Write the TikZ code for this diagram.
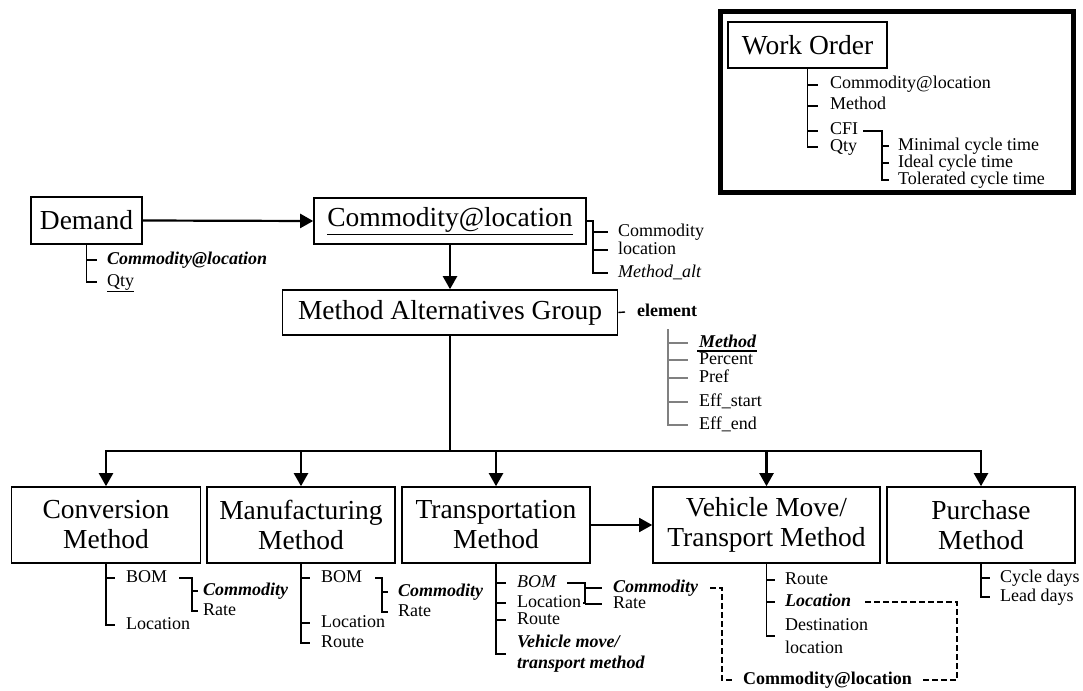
\documentclass[tikz,border=0pt]{standalone}
\usepackage{fontspec}
\setmainfont{Liberation Serif}
\usetikzlibrary{arrows.meta}
\newcommand{\bigfnt}{\fontsize{27.5}{30}\selectfont}
\newcommand{\smfnt}{\fontsize{18}{21}\selectfont}
\begin{document}
\begin{tikzpicture}[x=1pt,y=-1pt,
  box/.style={draw, line width=1.6pt, inner sep=0, font=\bigfnt, align=center},
  sm/.style={inner sep=0, anchor=west, font=\smfnt, text height=12pt, text depth=4pt},
  smm/.style={inner sep=0, anchor=west, font=\smfnt, align=left},
  bi/.style={font=\smfnt\bfseries\itshape},
  it/.style={font=\smfnt\itshape},
  bf/.style={font=\smfnt\bfseries},
  tree/.style={line width=1.4pt},
  arr/.style={line width=2.2pt, -{Triangle[length=13pt,width=14pt]}},
  dsh/.style={line width=1.5pt, dash pattern=on 6pt off 3pt},
  gr/.style={line width=1.4pt, draw=black!50}
]
\useasboundingbox (0,0) rectangle (1083,690);

% ---------- Work Order frame ----------
\node[draw, line width=5pt, minimum width=353pt, minimum height=180pt, inner sep=0] (frame) at (896.5,102) {};
\node[box, minimum width=159pt, minimum height=46pt] (wo) at (807.5,45) {Work Order};
\node[sm] (wo1) at (830,85) {Commodity@location};
\node[sm] (wo2) at (830,106) {Method};
\node[sm] (wo3) at (830,131) {CFI};
\node[sm] (wo4) at (830,147) {Qty};
\draw[tree] (wo.south) |- ([xshift=-12pt]wo4.west);
\foreach \n in {wo1,wo2,wo3} \draw[tree] (wo.south |- \n.west) -- ([xshift=-12pt]\n.west);
\coordinate (cfb) at (882,133);
\node[sm] (wo5) at (898,146) {Minimal cycle time};
\node[sm] (wo6) at (898,163) {Ideal cycle time};
\node[sm] (wo7) at (898,180) {Tolerated cycle time};
\draw[tree] ([xshift=5pt]wo3.east) -- (wo3.east -| cfb) |- ([xshift=-9pt]wo7.west);
\foreach \n in {wo5,wo6} \draw[tree] (cfb |- \n.west) -- ([xshift=-9pt]\n.west);

% ---------- Demand / Commodity@location ----------
\node[box, minimum width=111pt, minimum height=47pt] (dem) at (86.5,220.5) {Demand};
\node[box, minimum width=272pt, minimum height=46pt] (cl) at (450,221) {\underline{Commodity@location}};
\draw[arr] (dem.east) -- (cl.west);
\node[sm, bi] (d1) at (107,260) {Commodity@location};
\node[sm] (d2) at (107,282) {\underline{Qty}};
\draw[tree] (dem.south) |- ([xshift=-10pt]d2.west);
\draw[tree] (dem.south |- d1.west) -- ([xshift=-10pt]d1.west);

\coordinate (clv) at (593,221);
\node[sm] (c1) at (618,232) {Commodity};
\node[sm] (c2) at (618,250) {location};
\node[sm, it] (c3) at (618,273) {Method\_alt};
\draw[tree] (cl.east) -- (cl.east -| clv) |- ([xshift=-10pt]c3.west);
\foreach \n in {c1,c2} \draw[tree] (clv |- \n.west) -- ([xshift=-10pt]\n.west);

% ---------- Method Alternatives Group ----------
\node[box, minimum width=335pt, minimum height=45pt] (mag) at (450,312.5) {Method Alternatives Group};
\draw[arr] (cl.south) -- (mag.north);
\node[sm, bf] (el) at (637,312) {element};
\draw[tree] (mag.east) -- ([xshift=-12pt]el.west);
\coordinate (ev) at (668,329);
\node[sm, bi] (e1) at (699,343) {Method};
\node[sm] (e2) at (699,360) {Percent};
\node[sm] (e3) at (699,378) {Pref};
\node[sm] (e4) at (699,402) {Eff\_start};
\node[sm] (e5) at (699,425) {Eff\_end};
\draw[gr] (ev) |- ([xshift=-11pt]e5.west);
\foreach \n in {e1,e2,e3,e4} \draw[gr] (ev |- \n.west) -- ([xshift=-11pt]\n.west);
\draw[line width=2pt] ([xshift=-2pt]e1.south west) -- ([xshift=1pt]e1.south east);

% ---------- bottom boxes ----------
\node[box, minimum width=189pt, minimum height=76pt] (conv) at (106,525) {Conversion\\Method};
\node[box, minimum width=188pt, minimum height=76pt] (manu) at (301,525) {Manufacturing\\Method};
\node[box, minimum width=188pt, minimum height=76pt] (trans) at (496,525) {Transportation\\Method};
\node[box, minimum width=227pt, minimum height=76pt] (veh) at (766.5,525) {Vehicle Move/\\Transport Method};
\node[box, minimum width=188pt, minimum height=76pt] (purch) at (981,525) {Purchase\\Method};

\coordinate (bus) at (450,451);
\draw[line width=2.2pt] (mag.south) -- (bus);
\draw[line width=2.2pt, {Triangle[length=13pt,width=14pt]}-{Triangle[length=13pt,width=14pt]}]
  (conv.north) |- (bus) -| (purch.north);
\foreach \n in {manu,trans,veh} \draw[arr] (\n.north |- bus) -- (\n.north);
\draw[line width=1.8pt, -{Triangle[length=13pt,width=14pt]}] (trans.east) -- (veh.west);

% Conversion tree
\node[sm] (cv1) at (126,578) {BOM};
\node[sm] (cv2) at (126,625) {Location};
\draw[tree] (conv.south) |- ([xshift=-11pt]cv2.west);
\draw[tree] (conv.south |- cv1.west) -- ([xshift=-11pt]cv1.west);
\coordinate (cvb) at (192,578);
\node[sm, bi] (cv3) at (203,591) {Commodity};
\node[sm] (cv4) at (203,611) {Rate};
\draw[tree] ([xshift=12pt]cv1.east) -- (cv1.east -| cvb) |- ([xshift=-5pt]cv4.west);
\draw[tree] (cvb |- cv3.west) -- ([xshift=-5pt]cv3.west);

% Manufacturing tree
\node[sm] (m1) at (321,578) {BOM};
\node[sm] (m2) at (321,623) {Location};
\node[sm] (m3) at (321,643) {Route};
\draw[tree] (manu.south) |- ([xshift=-11pt]m3.west);
\foreach \n in {m1,m2} \draw[tree] (manu.south |- \n.west) -- ([xshift=-11pt]\n.west);
\coordinate (mb) at (382,578);
\node[sm, bi] (m4) at (398,592) {Commodity};
\node[sm] (m5) at (398,612) {Rate};
\draw[tree] ([xshift=13pt]m1.east) -- (m1.east -| mb) |- ([xshift=-10pt]m5.west);
\draw[tree] (mb |- m4.west) -- ([xshift=-10pt]m4.west);

% Transportation tree
\node[sm, it] (t1) at (517,583) {BOM};
\node[sm] (t2) at (517,603) {Location};
\node[sm] (t3) at (517,620) {Route};
\node[smm, bi] (t4) at (517,654) {Vehicle move/\\transport method};
\draw[tree] (trans.south) |- ([xshift=-11pt]t4.west);
\foreach \n in {t1,t2,t3} \draw[tree] (trans.south |- \n.west) -- ([xshift=-11pt]\n.west);
\coordinate (tb) at (585,583);
\node[sm, bi] (t5) at (613,588) {Commodity};
\node[sm] (t6) at (613,604) {Rate};
\draw[tree] ([xshift=11pt]t1.east) -- (t1.east -| tb) |- ([xshift=2pt]t2.east);
\foreach \n in {t5,t6} \draw[tree] (tb |- \n.west) -- ([xshift=-11pt]\n.west);

% Vehicle tree
\node[sm] (v1) at (785,580) {Route};
\node[sm, bi] (v2) at (785,602) {Location};
\node[smm] (v3) at (785,636) {Destination\\[2pt]location};
\draw[tree] (veh.south) |- ([xshift=-10pt]v3.west);
\foreach \n in {v1,v2} \draw[tree] (veh.south |- \n.west) -- ([xshift=-10pt]\n.west);

% Purchase tree
\node[sm] (p1) at (1000,578) {Cycle days};
\node[sm] (p2) at (1000,597) {Lead days};
\draw[tree] (purch.south) |- ([xshift=-10pt]p2.west);
\draw[tree] (purch.south |- p1.west) -- ([xshift=-10pt]p1.west);

% dashed links to Commodity@location
\coordinate (dx1) at (722,588);
\coordinate (dx2) at (957,602);
\node[sm, bf] (bcl) at (743,680) {Commodity@location};
\draw[dsh] ([xshift=12pt]t5.east) -- (t5.east -| dx1) |- ([xshift=-10pt]bcl.west);
\draw[dsh] ([xshift=11pt]bcl.east) -- (bcl.east -| dx2) |- ([xshift=14pt]v2.east);
\end{tikzpicture}
\end{document}
